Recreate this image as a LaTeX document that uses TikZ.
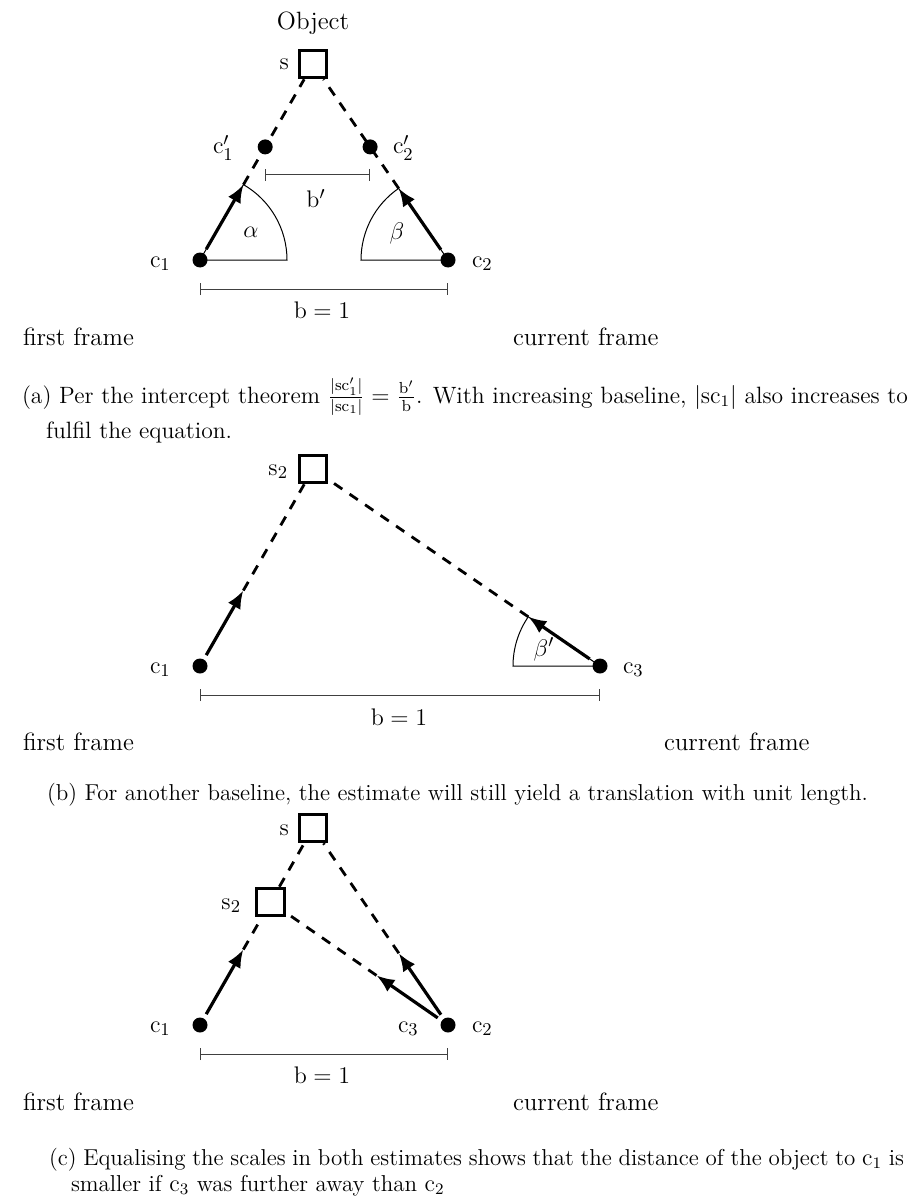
\documentclass[tikz,border=0pt]{standalone}
\usetikzlibrary{arrows.meta,calc}
\begin{document}
\begin{tikzpicture}[x=0.5pt,y=-0.5pt,
  lbl/.style={font=\fontsize{12.5}{15}\selectfont, inner sep=0pt, outer sep=0pt},
  captxt/.style={font=\fontsize{11.5}{13.5}\selectfont, inner sep=0pt, outer sep=0pt},
  captxtw/.style={font=\fontsize{11.8}{13.5}\selectfont, inner sep=0pt, outer sep=0pt},
  dot/.style={circle, fill=black, inner sep=0pt, outer sep=0pt, minimum size=7.5pt},
  obj/.style={draw, line width=1.5pt, minimum size=13.8pt, inner sep=0pt},
  dashln/.style={line width=1.4pt, dash pattern=on 5pt off 4.4pt},
  arr/.style={line width=1.6pt, -{Latex[length=9pt,width=7.2pt]}, shorten <=2.5pt},
  dimbar/.style={line width=0.5pt, draw=black!75, {Bar[width=6pt]}-{Bar[width=6pt]}},
  wedge/.style={line width=0.5pt},
]
\useasboundingbox (0,0) rectangle (913,1198);

% ---------------- panel (a)
\node[obj] (sA) at (313,64) {};
\node[dot] (c1A) at (200,260) {};
\node[dot] (c2A) at (448,260) {};
\coordinate (t1A) at ($(c1A.center)!43.5pt!(sA.center)$);
\coordinate (t2A) at ($(c2A.center)!43.5pt!(sA.center)$);
\draw[wedge] (c1A.center) -- ++(0:43.5pt) arc[start angle=0,end angle=60.03,radius=43.5pt] -- cycle;
\draw[wedge] (c2A.center) -- ++(180:43.5pt) arc[start angle=180,end angle=124.56,radius=43.5pt] -- cycle;
\draw[dashln] (t1A) -- (sA);
\draw[dashln] (t2A) -- (sA);
\draw[arr] (c1A) -- (t1A);
\draw[arr] (c2A) -- (t2A);
\node[dot] (c1pA) at ($(c1A.center)!0.577!(sA.center)$) {};
\node[dot] (c2pA) at ($(c2A.center)!0.577!(sA.center)$) {};
\node[lbl, anchor=base] (objA) at (313,30) {Object};
\node[lbl, anchor=base east] (sAl) at (289,70) {$\mathrm{s}$};
\node[lbl, anchor=base west] (c1pAl) at (213,154) {$\mathrm{c}_1'$};
\node[lbl, anchor=base west] (c2pAl) at (393,154) {$\mathrm{c}_2'$};
\node[lbl, anchor=base west] (c1Al) at (150,267) {$\mathrm{c}_1$};
\node[lbl, anchor=base west] (c2Al) at (472,267) {$\mathrm{c}_2$};
\node[lbl] (alphaA) at (251,232) {$\alpha$};
\node[lbl] (betaA) at (397,234) {$\beta$};
\coordinate (ybpA) at (0,175);
\coordinate (ybA) at (0,289);
\draw[dimbar] (c1pA |- ybpA) -- (c2pA |- ybpA);
\node[lbl, anchor=base] (bpA) at (316,208) {$\mathrm{b}'$};
\draw[dimbar] (c1A |- ybA) -- (c2A |- ybA);
\node[lbl, anchor=base] (bA) at (322,318) {$\mathrm{b} = 1$};
\node[lbl, anchor=base west] (ffA) at (23,345) {first frame};
\node[lbl, anchor=base west] (cfA) at (513,345) {current frame};
\node[captxtw, anchor=base west] (capA1) at (22,403) {\hbox to 443pt{(a) Per the intercept theorem $\frac{|\mathrm{sc}_1'|}{|\mathrm{sc}_1|} = \frac{\mathrm{b}'}{\mathrm{b}}$. With increasing baseline, $|\mathrm{sc}_1|$ also increases to}};
\node[captxtw, anchor=base west] (capA2) at (46,438) {fulfil the equation.};

% ---------------- panel (b)
\node[obj] (s2B) at (313,469) {};
\node[dot] (c1B) at (200,666) {};
\node[dot] (c3B) at (600,666) {};
\coordinate (t1B) at ($(c1B.center)!43.5pt!(s2B.center)$);
\coordinate (t3B) at ($(c3B.center)!43.5pt!(s2B.center)$);
\draw[wedge] (c3B.center) -- ++(180:43.5pt) arc[start angle=180,end angle=145.54,radius=43.5pt] -- cycle;
\draw[dashln] (t1B) -- (s2B);
\draw[dashln] (t3B) -- (s2B);
\draw[arr] (c1B) -- (t1B);
\draw[arr] (c3B) -- (t3B);
\node[lbl, anchor=base east] (s2Bl) at (288,475) {$\mathrm{s}_2$};
\node[lbl, anchor=base west] (c1Bl) at (150,673) {$\mathrm{c}_1$};
\node[lbl, anchor=base west] (c3Bl) at (623,673) {$\mathrm{c}_3$};
\node[lbl] (betapB) at (544,649) {$\beta'$};
\coordinate (ybB) at (0,695);
\draw[dimbar] (c1B |- ybB) -- (c3B |- ybB);
\node[lbl, anchor=base] (bB) at (399,725) {$\mathrm{b} = 1$};
\node[lbl, anchor=base west] (ffB) at (23,750) {first frame};
\node[lbl, anchor=base west] (cfB) at (664,750) {current frame};
\node[captxt, anchor=base] (capB) at (457.5,800) {(b) For another baseline, the estimate will still yield a translation with unit length.};

% ---------------- panel (c)
\node[obj] (sC) at (313,828) {};
\node[obj] (s2C) at (270.6,902) {};
\node[dot] (c1C) at (200,1025) {};
\node[dot] (c2C) at (448,1025) {};
\coordinate (t1C) at ($(c1C.center)!43.5pt!(s2C.center)$);
\coordinate (t2C) at ($(c2C.center)!43.5pt!(sC.center)$);
\coordinate (t3C) at ($(c2C.center)!43.5pt!(s2C.center)$);
\draw[dashln] (t1C) -- (s2C);
\draw[dashln] (s2C) -- (sC);
\draw[dashln] (t2C) -- (sC);
\draw[dashln] (t3C) -- (s2C);
\draw[arr] (c1C) -- (t1C);
\draw[arr] (c2C) -- (t2C);
\draw[arr] (c2C) -- (t3C);
\node[lbl, anchor=base east] (sCl) at (289,835) {$\mathrm{s}$};
\node[lbl, anchor=base east] (s2Cl) at (241,909) {$\mathrm{s}_2$};
\node[lbl, anchor=base west] (c1Cl) at (150,1032) {$\mathrm{c}_1$};
\node[lbl, anchor=base west] (c3Cl) at (398,1032) {$\mathrm{c}_3$};
\node[lbl, anchor=base west] (c2Cl) at (472,1032) {$\mathrm{c}_2$};
\coordinate (ybC) at (0,1054);
\draw[dimbar] (c1C |- ybC) -- (c2C |- ybC);
\node[lbl, anchor=base] (bC) at (322,1083) {$\mathrm{b} = 1$};
\node[lbl, anchor=base west] (ffC) at (23,1110) {first frame};
\node[lbl, anchor=base west] (cfC) at (513,1110) {current frame};
\node[captxt, anchor=base west] (capC1) at (49,1165) {\hbox to 427.5pt{(c) Equalising the scales in both estimates shows that the distance of the object to $\mathrm{c}_1$ is}};
\node[captxt, anchor=base west] (capC2) at (71,1191) {smaller if $\mathrm{c}_3$ was further away than $\mathrm{c}_2$};
\end{tikzpicture}
\end{document}
